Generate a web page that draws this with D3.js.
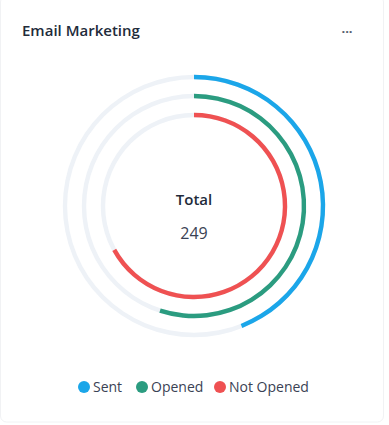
<!DOCTYPE html>
<html>
<head>
<meta charset="utf-8">
<script src="https://d3js.org/d3.v7.min.js"></script>
<style>
  html, body { margin: 0; padding: 0; background: #fff; }
  svg { display: block; font-family: "Open Sans", "Noto Sans", sans-serif; }
</style>
</head>
<body>
<svg id="chart" width="389" height="425"></svg>
<script>
// data
var labels = ["Sent", "Opened", "Not Opened"]
var values = [44, 55, 67]
var colors = ["#1ba6e9", "#2b9c80", "#ef5152"]
var totalLabel = "Total"
var totalValue = 249

var svg = d3.select("#chart")

// card
svg.append("rect")
  .attr("x", 0.5).attr("y", -4)
  .attr("width", 383).attr("height", 426)
  .attr("rx", 6)
  .attr("fill", "#fff")
  .attr("stroke", "#f1f2f4")

svg.append("text")
  .attr("x", 22).attr("y", 36)
  .style("font-size", "15px")
  .style("font-weight", 600)
  .attr("fill", "#222b3a")
  .text("Email Marketing")

svg.append("text")
  .attr("x", 347).attr("y", 33)
  .attr("text-anchor", "middle")
  .style("font-size", "13px")
  .style("font-weight", 700)
  .attr("fill", "#555e6e")
  .text("...")

var cx = 194, cy = 206
var g = svg.append("g").attr("transform", `translate(${cx},${cy})`)

// ring radius per series (outer -> inner)
var rScale = d3.scalePoint()
  .domain(labels)
  .range([129, 91])

var angle = d3.scaleLinear().domain([0, 100]).range([0, 2 * Math.PI])

var arc = d3.arc()
  .innerRadius(d => rScale(d.label) - 2.2)
  .outerRadius(d => rScale(d.label) + 2.2)
  .startAngle(0)
  .endAngle(d => d.end)

var rows = labels.map((l, i) => ({ label: l, value: values[i], color: colors[i] }))

g.selectAll("path.track")
  .data(rows)
  .enter().append("path")
  .attr("class", "track")
  .attr("d", d => arc({ label: d.label, end: 2 * Math.PI }))
  .attr("fill", "#eef2f7")

g.selectAll("path.bar")
  .data(rows)
  .enter().append("path")
  .attr("class", "bar")
  .attr("d", d => arc({ label: d.label, end: angle(d.value) }))
  .attr("fill", d => d.color)

g.append("text")
  .attr("y", -1)
  .attr("text-anchor", "middle")
  .style("font-size", "15px")
  .style("font-weight", 600)
  .attr("fill", "#222b3a")
  .text(totalLabel)

g.append("text")
  .attr("y", 33)
  .attr("text-anchor", "middle")
  .style("font-size", "16px")
  .attr("fill", "#3a4254")
  .text(totalValue)

// legend
var legend = svg.append("g").attr("transform", "translate(0,387)")
var lx = [84, 142, 220]
var items = legend.selectAll("g")
  .data(rows)
  .enter().append("g")
  .attr("transform", (d, i) => `translate(${lx[i]},0)`)

items.append("circle")
  .attr("r", 6)
  .attr("fill", d => d.color)

items.append("text")
  .attr("x", 9)
  .attr("y", 5)
  .style("font-size", "14px")
  .attr("fill", "#3a4254")
  .text(d => d.label)
</script>
</body>
</html>
